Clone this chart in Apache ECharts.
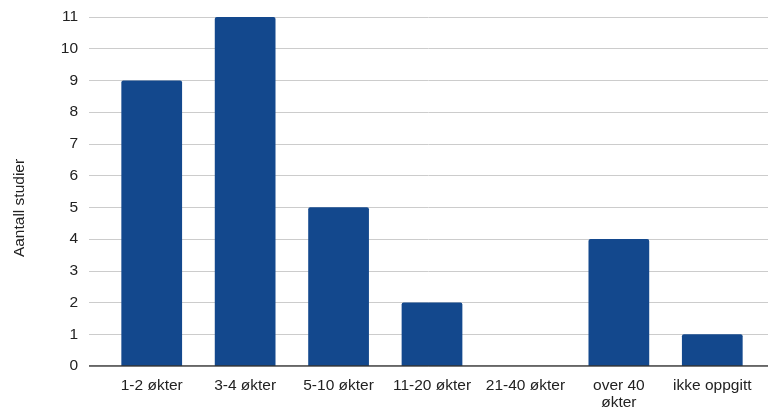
<!DOCTYPE html>
<html>
<head>
<meta charset="utf-8">
<script src="https://cdn.jsdelivr.net/npm/echarts@6/dist/echarts.min.js"></script>
<style>
  html, body { margin: 0; padding: 0; background: #fff; }
  #chart { width: 768px; height: 410px; }
</style>
</head>
<body>
<div id="chart"></div>
<script>
const categories = ['1-2 økter', '3-4 økter', '5-10 økter', '11-20 økter', '21-40 økter', 'over 40\nøkter', 'ikke oppgitt'];
const studyCounts = [9, 11, 5, 2, 0, 4, 1];
const yTicks = { min: 0, max: 11, interval: 1 };
const yTitle = 'Aantall studier';

const FONT = '"Liberation Sans", Arial, sans-serif';
const TEXT = '#222222';
const SIZE = 15.5;

const chart = echarts.init(document.getElementById('chart'));
chart.setOption({
  animation: false,
  // grid 0: frame with horizontal gridlines and baseline across the full width
  // grid 1: the category band where the bars sit (inset slightly on both sides)
  grid: [
    { left: 89, right: 0, top: 17, bottom: 44, outerBoundsMode: 'none', containLabel: false },
    { left: 105, right: 9, top: 17, bottom: 44, outerBoundsMode: 'none', containLabel: false }
  ],
  graphic: [
    {
      type: 'text', x: 20, y: 208, rotation: Math.PI / 2,
      style: {
        text: yTitle, fill: TEXT, font: SIZE + 'px ' + FONT,
        textAlign: 'center', textVerticalAlign: 'middle'
      }
    }
  ],
  xAxis: [
    {
      gridIndex: 0, type: 'value', min: 0, max: 1,
      axisLine: { show: false }, axisTick: { show: false },
      axisLabel: { show: false }, splitLine: { show: false }
    },
    {
      gridIndex: 1, type: 'category', data: categories,
      axisLine: { show: false }, axisTick: { show: false },
      axisLabel: {
        interval: 0, margin: 11, color: TEXT, fontFamily: FONT,
        fontSize: SIZE, lineHeight: 17
      }
    }
  ],
  yAxis: [
    {
      gridIndex: 0, type: 'value', min: yTicks.min, max: yTicks.max, interval: yTicks.interval,
      axisLine: { show: false }, axisTick: { show: false },
      axisLabel: { color: TEXT, fontFamily: FONT, fontSize: SIZE, margin: 11 },
      splitLine: { lineStyle: { color: '#cccccc', width: 1 } }
    },
    {
      gridIndex: 1, type: 'value', min: yTicks.min, max: yTicks.max, interval: yTicks.interval,
      axisLine: { show: false }, axisTick: { show: false },
      axisLabel: { show: false }, splitLine: { show: false }
    }
  ],
  series: [
    {
      type: 'bar', xAxisIndex: 1, yAxisIndex: 1,
      data: studyCounts, barWidth: '65%',
      itemStyle: { color: '#13488d', borderRadius: [2, 2, 0, 0] },
      z: 2
    },
    {
      // dark baseline at zero
      type: 'line', xAxisIndex: 0, yAxisIndex: 0,
      data: [[0, 0], [1, 0]], symbol: 'none', silent: true,
      lineStyle: { color: '#333333', width: 1.5 }, z: 3
    }
  ]
});
</script>
</body>
</html>
